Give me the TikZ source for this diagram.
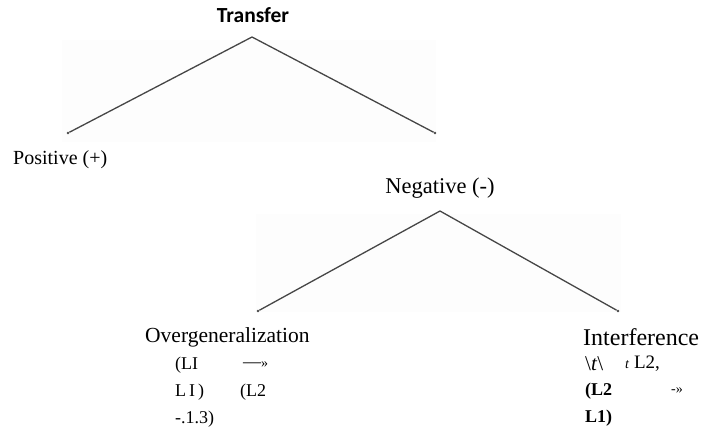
\documentclass[tikz,border=0pt]{standalone}
\usepackage{fontspec}
\setmainfont{Liberation Serif}
\newfontfamily\headfont{Carlito}
\usetikzlibrary{positioning}
\definecolor{ink}{RGB}{70,70,70}
\definecolor{haze}{RGB}{253,253,253}
\tikzset{
  branch/.style={draw=ink,line width=1.3pt,line join=miter},
  leaf/.style={circle,fill=ink,inner sep=0pt,minimum size=2.8pt},
  head/.style={inner sep=0pt,font=\headfont\bfseries\fontsize{21.5}{24}\selectfont},
  lbl/.style={inner sep=0pt,anchor=west,font=\fontsize{20}{24}\selectfont},
  frag/.style={inner sep=0pt,anchor=west,font=\fontsize{18}{20}\selectfont},
}
\newcommand{\tinyfrag}{\fontsize{14}{16}\selectfont}

\begin{document}
\begin{tikzpicture}[x=1pt,y=-1pt]
  \useasboundingbox (0,0) rectangle (702,444);
  % faint scan shading behind the two trees
  \fill[haze] (62,40) rectangle (436,142);
  \fill[haze] (256,214) rectangle (621,312);

  % first level
  \node[head] (transfer) at (253,15) {Transfer};
  \coordinate (top1) at (252,37);
  \node[leaf] (pos) at (68,133) {};
  \node[leaf] (neg) at (435,133) {};
  \draw[branch] (pos) -- (top1) -- (neg);
  \node[lbl] (positive) at (13,160) {Positive (+)};
  \node[lbl,anchor=center,font=\fontsize{22.5}{26}\selectfont] (negative) at (440,188) {Negative (-)};

  % second level
  \coordinate (top2) at (440,211);
  \node[leaf] (over) at (258,311) {};
  \node[leaf] (inter) at (618,311) {};
  \draw[branch] (over) -- (top2) -- (inter);

  \node[lbl,font=\fontsize{21.5}{24}\selectfont] (overgen) at (145,337) {Overgeneralization};
  \node[frag] (og1a) at (175,365) {(LI};
  \node[frag] (og1b) at (243,365) {---{\tinyfrag»}};
  \node[frag] (og2a) at (175,392) {L\,I\,)};
  \node[frag] (og2b) at (240,392) {(L2};
  \node[frag] (og3a) at (175,419) {-.1.3)};

  \node[lbl,font=\fontsize{24}{26}\selectfont] (interf) at (583,337) {Interference};
  \node[frag,font=\fontsize{21}{24}\selectfont] (if1a) at (585,364) {\textbackslash\textit{t}\textbackslash};
  \node[frag,font=\fontsize{19}{22}\selectfont] (if1b) at (625,364) {{\tinyfrag\textit{t}} L2,};
  \node[frag,font=\bfseries\fontsize{18}{20}\selectfont] (if2a) at (585,391) {(L2};
  \node[frag] (if2b) at (671,391) {\tinyfrag -»};
  \node[frag,font=\bfseries\fontsize{18}{20}\selectfont] (if3a) at (585,418) {L1)};
\end{tikzpicture}
\end{document}
